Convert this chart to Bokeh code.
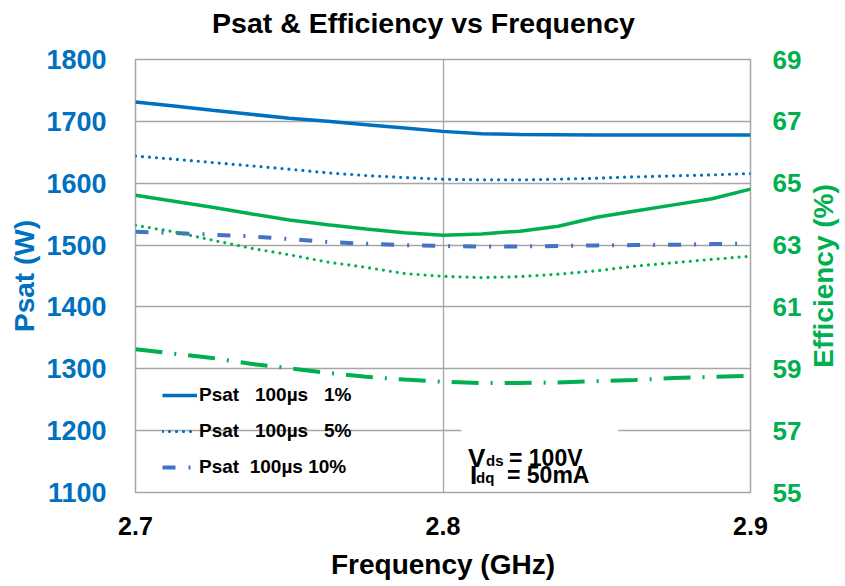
import math
from bokeh.plotting import figure
from bokeh.models import (Range1d, LinearAxis, FixedTicker, Legend, LegendItem,
                          BoxAnnotation, Label)
from bokeh.embed import file_html
from bokeh.resources import INLINE

# ---------------- data ----------------
freq = [2.7, 2.7125, 2.725, 2.7375, 2.75, 2.7625, 2.775, 2.7875, 2.8,
        2.8125, 2.825, 2.8375, 2.85, 2.8625, 2.875, 2.8875, 2.9]
psat_1 = [1731.4, 1724.9, 1717.8, 1711.4, 1705.0, 1700.0, 1694.6, 1689.2, 1683.8,
          1680.0, 1678.9, 1678.4, 1677.8, 1678.0, 1678.0, 1677.8, 1677.8]
psat_5 = [1643.8, 1638.9, 1633.5, 1628.1, 1622.7, 1616.8, 1612.4, 1609.2, 1606.5,
          1605.4, 1605.4, 1606.5, 1608.1, 1610.3, 1611.9, 1613.5, 1615.7]
psat_10 = [1521.6, 1519.5, 1516.8, 1514.1, 1509.7, 1504.9, 1502.2, 1500.0, 1498.4,
           1497.8, 1497.8, 1498.4, 1499.5, 1500.0, 1500.5, 1501.6, 1502.2]
eff_1 = [64.61, 64.42, 64.22, 64.01, 63.81, 63.66, 63.52, 63.40, 63.32,
         63.36, 63.45, 63.61, 63.90, 64.10, 64.30, 64.50, 64.81]
eff_5 = [63.64, 63.43, 63.16, 62.90, 62.69, 62.45, 62.28, 62.08, 61.99,
         61.95, 61.98, 62.06, 62.17, 62.32, 62.43, 62.54, 62.64]
eff_10 = [59.63, 59.49, 59.35, 59.16, 59.02, 58.87, 58.74, 58.65, 58.58,
          58.54, 58.54, 58.56, 58.60, 58.64, 58.70, 58.74, 58.77]

x_ticks = [2.7, 2.8, 2.9]
psat_ticks = [1100, 1200, 1300, 1400, 1500, 1600, 1700, 1800]
eff_ticks = [55, 57, 59, 61, 63, 65, 67, 69]
legend_labels = ["Psat\u00a0\u00a0\u00a0100\u00b5s\u00a0\u00a0\u00a01%",
                 "Psat\u00a0\u00a0\u00a0100\u00b5s\u00a0\u00a0\u00a05%",
                 "Psat\u00a0\u00a0100\u00b5s\u00a010%"]
title_text = "Psat & Efficiency vs Frequency"

BLUE = "#0070C0"
BLUE2 = "#4472C4"
GREEN = "#00B050"
GRID = "#A6A6A6"
FONT = "Liberation Sans"

p = figure(width=845, height=584, output_backend="svg", toolbar_location=None,
           x_range=Range1d(2.7, 2.9), y_range=Range1d(1100, 1800),
           min_border_left=135, min_border_right=95, min_border_top=59,
           min_border_bottom=92)
p.extra_y_ranges = {"eff": Range1d(55, 69)}
p.title.text = ""

p.outline_line_color = GRID
p.outline_line_width = 1.5
p.background_fill_color = "white"

# grids
p.xgrid.ticker = FixedTicker(ticks=[2.8])
p.ygrid.ticker = FixedTicker(ticks=psat_ticks)
for g in (p.xgrid[0], p.ygrid[0]):
    g.grid_line_color = GRID
    g.grid_line_width = 1.3

def style_axis(ax, color, size):
    ax.axis_line_color = None
    ax.major_tick_line_color = None
    ax.minor_tick_line_color = None
    ax.major_tick_in = 0
    ax.major_tick_out = 0
    ax.minor_tick_out = 0
    ax.major_label_text_font = FONT
    ax.major_label_text_font_style = "bold"
    ax.major_label_text_font_size = size
    ax.major_label_text_color = color
    ax.axis_label_text_font = FONT
    ax.axis_label_text_font_style = "bold"
    ax.axis_label_text_font_size = "28px"
    ax.axis_label_text_color = color

# x axis
xa = p.xaxis[0]
xa.ticker = FixedTicker(ticks=x_ticks)
xa.major_label_overrides = {t: f"{t:.1f}" for t in x_ticks}
xa.axis_label = "Frequency (GHz)"
style_axis(xa, "black", "25px")
xa.major_label_standoff = 24
xa.axis_label_standoff = 11

# left axis
ya = p.yaxis[0]
ya.ticker = FixedTicker(ticks=psat_ticks)
ya.axis_label = "Psat (W)"
style_axis(ya, BLUE, "27px")
ya.major_label_standoff = 29
ya.axis_label_standoff = 3

# right axis (ticks); its title is a rotated label in its own side panel
ra = LinearAxis(y_range_name="eff")
ra.ticker = FixedTicker(ticks=eff_ticks)
style_axis(ra, GREEN, "26px")
ra.major_label_standoff = 22
p.add_layout(ra, "right")
p.add_layout(Label(x=2.9, y=1450, x_offset=73, text="Efficiency (%)", angle=math.pi / 2,
                   text_font=FONT, text_font_style="bold", text_font_size="28px",
                   text_color=GREEN, text_align="center", text_baseline="middle"), "right")

# title as a label in the panel above the frame
p.add_layout(Label(x=2.8, y=1800, x_offset=-19.5, y_offset=37, text=title_text,
                   text_font=FONT, text_font_style="bold", text_font_size="28.5px",
                   text_color="black", text_align="center", text_baseline="alphabetic"), "above")

# lines
r1 = p.line(freq, psat_1, line_color=BLUE, line_width=3.5)
r2 = p.line(freq, psat_5, line_color=BLUE, line_width=3.2, line_dash="0 7", line_cap="round")
r3 = p.line(freq, psat_10, line_color=BLUE2, line_width=4, line_dash="13 13 2 13")
p.line(freq, eff_1, line_color=GREEN, line_width=3.5, y_range_name="eff")
p.line(freq, eff_5, line_color=GREEN, line_width=3.2, line_dash="0 7", line_cap="round", y_range_name="eff")
p.line(freq, eff_10, line_color=GREEN, line_width=4, line_dash="27 12 2 12", y_range_name="eff")

legend = Legend(items=[LegendItem(label=legend_labels[0], renderers=[r1]),
                       LegendItem(label=legend_labels[1], renderers=[r2]),
                       LegendItem(label=legend_labels[2], renderers=[r3])],
                location=(27, 12), padding=0, spacing=10, margin=0,
                glyph_width=35, glyph_height=26, label_height=26,
                label_standoff=2, background_fill_alpha=0,
                border_line_color=None,
                label_text_font=FONT, label_text_font_style="bold",
                label_text_font_size="19px", label_text_color="black")
p.add_layout(legend, "center")

# annotation
p.add_layout(BoxAnnotation(left=2.806, right=2.857, bottom=1125, top=1215,
                           fill_color="white", fill_alpha=1, line_color=None))

def lab(text, dx, dy, size):
    p.add_layout(Label(x=2.8, y=1200, x_offset=dx, y_offset=dy, text=text,
                       text_font=FONT, text_font_style="bold", text_font_size=size,
                       text_color="black", text_baseline="alphabetic"))

lab("V", 25, -27, "26px")
lab("ds", 43, -30, "15px")
lab("= 100V", 66, -27, "23px")
lab("I", 27, -44, "26px")
lab("dq", 33, -47, "15px")
lab("= 50mA", 64, -44, "23px")

open("out.html", "w").write(file_html(p, INLINE))
